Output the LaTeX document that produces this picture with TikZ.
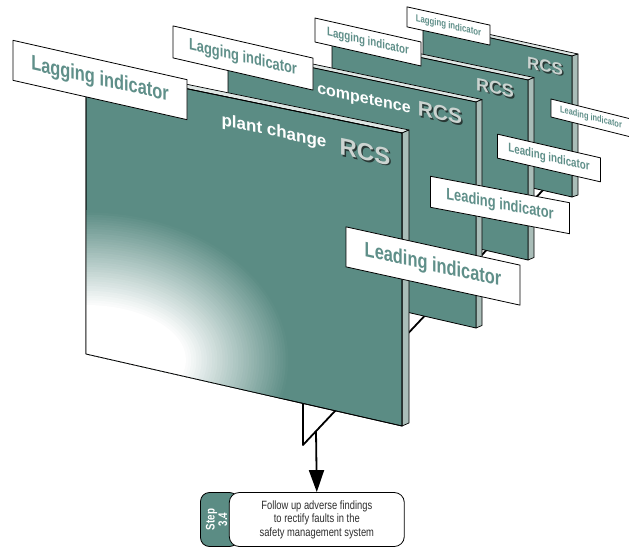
\documentclass[tikz,border=0pt]{standalone}
\usepackage{fontspec}
\setmainfont{Liberation Sans}
\newfontfamily\narrowsans[FakeStretch=0.78]{Liberation Sans}
\usetikzlibrary{calc,positioning,arrows.meta}
\definecolor{boardgreen}{RGB}{91,140,132}
\definecolor{boardside}{RGB}{169,189,184}
\definecolor{boardtop}{RGB}{222,230,228}
\definecolor{signtext}{RGB}{95,143,137}
\definecolor{rcsgray}{RGB}{204,212,209}
\definecolor{rcsshade}{RGB}{40,56,53}
\definecolor{stepgray}{RGB}{45,45,45}
\tikzset{
  sign/.style={draw=black, fill=white, line width=0.8pt, inner sep=0pt, text=signtext},
  signsize/.style n args={3}{minimum width=#1, minimum height=#2, font=\narrowsans\bfseries\fontsize{#3}{#3}\selectfont},
  boardtext/.style={text=white, inner sep=0pt, font=\bfseries\fontsize{#1}{#1}\selectfont},
  rcs/.style={text=rcsgray, inner sep=0pt, font=\bfseries\fontsize{#1}{#1}\selectfont},
  stemline/.style={draw=black, line width=1.8pt},
}

\begin{document}
\begin{tikzpicture}[x=1pt,y=-1pt,line join=round,
    boardface/.style={fill=boardgreen, draw=black, line width=0.8pt},
    boardedge/.style={fill=boardside, draw=black, line width=0.7pt},
    steptab/.style={fill=boardgreen, draw=black, line width=0.8pt, rounded corners=9pt, minimum width=38pt, minimum height=54pt},
    stepbox/.style={fill=white, draw=black, line width=0.8pt, rounded corners=10pt, minimum width=175pt, minimum height=54pt, align=center, text=stepgray, font=\narrowsans\fontsize{12}{13.5}\selectfont}]
  \useasboundingbox (0,0) rectangle (629,548);

  % rod through the boards
  \coordinate (stemtop) at (303,398);
  \coordinate (stemtip) at (303,445);
  \coordinate (rodend) at (560,172);
  \draw[stemline] (stemtop) -- (stemtip) -- (rodend);

  % boards, back to front
  \foreach \xl/\ytl/\xr/\ytr/\ybr/\ybl/\dx/\dy in {423/23/572/56/197/163/6/-2,
      332/39/528/80/260/215/6/-2.5, 228/50/476/102/328/271/6/-2.5, 86/68/402/133/426/354/7/-3}{
    \filldraw[boardedge, fill=boardtop] (\xl,\ytl) -- (\xl+\dx,\ytl+\dy) -- (\xr+\dx,\ytr+\dy) -- (\xr,\ytr) -- cycle;
    \filldraw[boardedge] (\xr,\ytr) -- (\xr+\dx,\ytr+\dy) -- (\xr+\dx,\ybr+\dy) -- (\xr,\ybr) -- cycle;
    \filldraw[boardface] (\xl,\ytl) -- (\xr,\ytr) -- (\xr,\ybr) -- (\xl,\ybl) -- cycle;
  }
  % white glow on the front board
  \begin{scope}
    \clip (86,68) -- (402,133) -- (402,426) -- (86,354) -- cycle;
    \foreach \k in {0,...,40}{
      \pgfmathsetmacro\rx{205-105*\k/40}
      \pgfmathsetmacro\ry{150-95*\k/40}
      \pgfmathtruncatemacro\p{100*\k/40}
      \fill[white!\p!boardgreen] (86,360) ellipse (\rx pt and \ry pt);
    }
  \end{scope}
  \draw[line width=0.8pt] (86,68) -- (402,133) -- (402,426) -- (86,354) -- cycle;

  % captions on the boards
  \node[boardtext=17, yslant=-0.21] (plantchange) at (274,132) {plant change};
  \node[boardtext=16, yslant=-0.21] (competence) at (364,100) {competence};
  \foreach \n/\x/\y/\s in {1/365/152/24, 2/440/113/21, 3/495/88/18, 4/545/66/17}{
    \node[rcs=\s, text=rcsshade, yslant=-0.21] (rcsshadow\n) at (\x+1.5,\y+1.5) {RCS};
    \node[rcs=\s, yslant=-0.21] (rcs\n) at (\x,\y) {RCS};
  }

  % lagging indicators
  \node[sign, signsize={174pt}{40pt}{21}, yslant=-0.226] (lag1) at (100,80) {Lagging indicator};
  \node[sign, signsize={140pt}{32pt}{16.5}, yslant=-0.23] (lag2) at (243,58) {Lagging indicator};
  \node[sign, signsize={106pt}{24pt}{12.5}, yslant=-0.226] (lag3) at (368,42) {Lagging indicator};
  \node[sign, signsize={83pt}{20pt}{10}, yslant=-0.22] (lag4) at (448.5,26) {Lagging indicator};
  % leading indicators
  \node[sign, signsize={174pt}{40pt}{21}, yslant=-0.22] (lead1) at (433,266) {Leading indicator};
  \node[sign, signsize={139pt}{31pt}{16.5}, yslant=-0.19] (lead2) at (500,205) {Leading indicator};
  \node[sign, signsize={103pt}{24pt}{12.5}, yslant=-0.23] (lead3) at (549,158) {Leading indicator};
  \node[sign, signsize={80pt}{18pt}{9.5}, yslant=-0.25] (lead4) at (591,118) {Leading indicator};

  % step box
  \node[steptab] (tab) at (219.5,519.5) {};
  \node[stepbox, right=-10pt of tab] (step) {Follow up adverse findings\\to rectify faults in the\\safety management system};
  \node[rotate=90, align=center, text=white, inner sep=0pt, font=\narrowsans\bfseries\fontsize{12.5}{12.5}\selectfont] (steplabel) at ([xshift=-3pt]tab.center) {Step\\3.4};
  \coordinate (arrowtop) at (316,431);
  \draw[stemline, -{Triangle[width=15pt,length=22pt]}] (arrowtop) -- (step.north);
\end{tikzpicture}
\end{document}
